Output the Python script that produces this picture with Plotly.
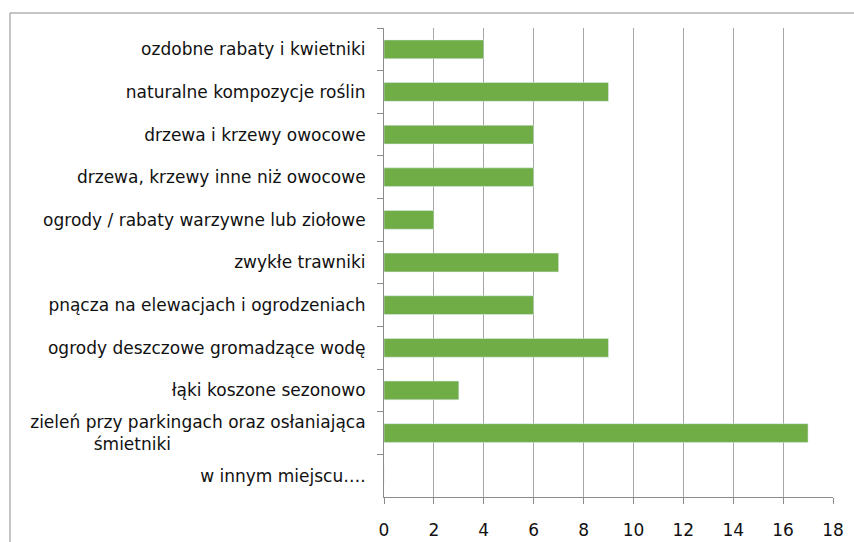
import plotly.graph_objects as go

kategorie = [
    'ozdobne rabaty i kwietniki',
    'naturalne kompozycje roślin',
    'drzewa i krzewy owocowe',
    'drzewa, krzewy inne niż owocowe',
    'ogrody / rabaty warzywne lub ziołowe',
    'zwykłe trawniki',
    'pnącza na elewacjach i ogrodzeniach',
    'ogrody deszczowe gromadzące wodę',
    'łąki koszone sezonowo',
    'zieleń przy parkingach oraz osłaniająca<br>śmietniki' + '\u00a0' * 36,
    'w innym miejscu….',
]
wartosci = [4, 9, 6, 6, 2, 7, 6, 9, 3, 17, 0]

fig = go.Figure()

fig.add_trace(go.Bar(
    x=wartosci,
    y=kategorie,
    orientation='h',
    marker_color='#70AD47',
    width=0.44,
))

# ramka wykresu
fig.add_shape(
    type='rect', xref='paper', yref='paper',
    x0=-0.833, x1=1.2, y0=-0.3, y1=1.032,
    line=dict(color='#8C8C8C', width=1),
    fillcolor='rgba(0,0,0,0)', layer='below',
)

fig.update_layout(
    width=854, height=542,
    margin=dict(l=384, r=21, t=28, b=45),
    plot_bgcolor='white',
    paper_bgcolor='white',
    showlegend=False,
    font=dict(family='DejaVu Sans', size=17, color='#111111'),
    xaxis=dict(
        range=[0, 18], dtick=2,
        showgrid=True, gridcolor='#A6A6A6', gridwidth=1,
        showline=True, linecolor='#8C8C8C', linewidth=1,
        ticks='outside', ticklen=6, tickcolor='#8C8C8C',
        ticklabelstandoff=12,
        tickfont=dict(size=17),
        zeroline=False,
        automargin=False,
    ),
    yaxis=dict(
        autorange='reversed',
        showline=True, linecolor='#8C8C8C', linewidth=1,
        ticks='outside', ticklen=6, tickcolor='#8C8C8C',
        tickson='boundaries',
        ticklabelstandoff=14,
        showgrid=False,
        automargin=False,
    ),
)

fig.write_html('out.html', config={'displayModeBar': False},
               post_script="document.body.style.margin='0';")
